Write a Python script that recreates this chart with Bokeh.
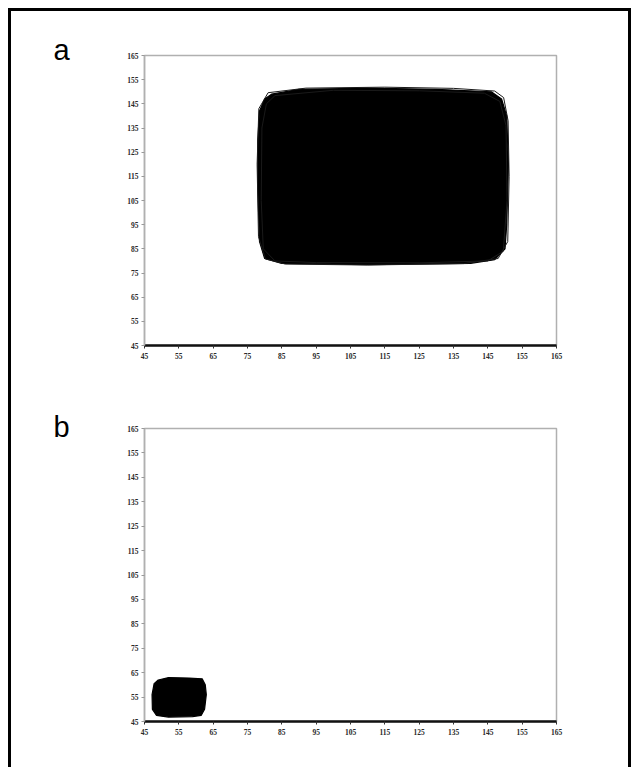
from bokeh.plotting import figure
from bokeh.layouts import column
from bokeh.models import FixedTicker, Range1d
from bokeh.embed import file_html
from bokeh.resources import INLINE

# tick values shared by both panels
ticks = [45, 55, 65, 75, 85, 95, 105, 115, 125, 135, 145, 155, 165]

# panel a: outline of the dense trajectory region
a_x = [82, 90, 110, 130, 146, 149, 150.5, 151, 150.5, 150, 147, 140, 110, 85, 80, 78.5, 78, 78, 78.5, 80]
a_y = [149, 151, 151.5, 151, 150, 147, 140, 120, 95, 85, 80.5, 79, 78.5, 79, 81, 88, 110, 130, 142, 147]
# a few individual loop traces along the edge of panel a
a_tr1_x = [81, 92, 115, 135, 147, 149.6, 150.9, 151.2, 150.8, 148, 138, 110, 86, 80.2, 78.2, 77.8, 78.3, 81]
a_tr1_y = [149.6, 151.5, 151.9, 151.4, 150.3, 147.6, 138, 115, 88, 81, 78.9, 78.3, 78.7, 80.8, 90, 120, 143, 149.6]
a_tr2_x = [83, 100, 125, 144, 148.5, 150.3, 150.6, 149.5, 145, 125, 95, 83, 79.6, 79, 79.2, 80.5, 83]
a_tr2_y = [148.4, 150.6, 150.4, 149.4, 146, 136, 105, 84, 80, 79.2, 79.3, 80, 85, 105, 135, 145, 148.4]

# panel b: outline of the trajectory region
b_x = [49, 52, 58, 61.8, 62.7, 63, 62.5, 61.5, 59, 52, 48.5, 47.3, 47.2, 47.8]
b_y = [62, 63, 62.8, 62.5, 60, 56, 50, 47.5, 47, 46.8, 47.5, 50, 56, 60.5]


def make_panel(height, mb_top, mb_bottom, letter, standoff):
    p = figure(width=617, height=height,
               x_range=Range1d(45, 165), y_range=Range1d(45, 165),
               output_backend="svg", toolbar_location=None,
               min_border_left=133, min_border_right=72,
               min_border_top=mb_top, min_border_bottom=mb_bottom)
    p.grid.visible = False
    p.background_fill_color = "white"
    p.border_fill_color = "white"
    p.outline_line_color = "#b0b0b0"
    p.outline_line_width = 1.5
    for ax in (p.xaxis[0], p.yaxis[0]):
        ax.ticker = FixedTicker(ticks=ticks)
        ax.minor_tick_line_color = None
        ax.major_label_text_font = "Liberation Serif"
        ax.major_label_text_font_style = "bold"
        ax.major_label_text_font_size = "7.5px"
        ax.major_label_text_color = "#2a2a2a"
        ax.major_tick_in = 0
        ax.major_tick_out = 3
    p.xaxis.axis_line_color = "#111111"
    p.xaxis.axis_line_width = 2.5
    p.xaxis.major_tick_line_color = "#333333"
    p.xaxis.major_label_standoff = 4
    p.yaxis.axis_line_color = "#b0b0b0"
    p.yaxis.axis_line_width = 1.5
    p.yaxis.major_tick_line_color = "#999999"
    p.yaxis.major_label_standoff = 3
    p.title.text = letter
    p.title.align = "left"
    p.title.offset = -91
    p.title.standoff = standoff
    p.title.text_font = "Liberation Sans"
    p.title.text_font_style = "normal"
    p.title.text_font_size = "29px"
    p.title.text_color = "black"
    return p


pa = make_panel(384, 44, 50, "a", -21)
pa.patch(a_x, a_y, fill_color="black", line_color="black", line_width=1.2)
pa.line(a_tr1_x, a_tr1_y, line_color="#1a1a1a", line_width=1.0)
pa.line(a_tr2_x, a_tr2_y, line_color="#1a1a1a", line_width=1.0)

pb = make_panel(372, 33, 46, "b", -29)
pb.patch(b_x, b_y, fill_color="black", line_color="black", line_width=1.2)

layout = column(pa, pb, styles={"margin-left": "8px", "margin-top": "8px",
                                "border-top": "3px solid black",
                                "border-left": "3px solid black",
                                "border-right": "3px solid black"})

open("out.html", "w").write(file_html(layout, INLINE))
